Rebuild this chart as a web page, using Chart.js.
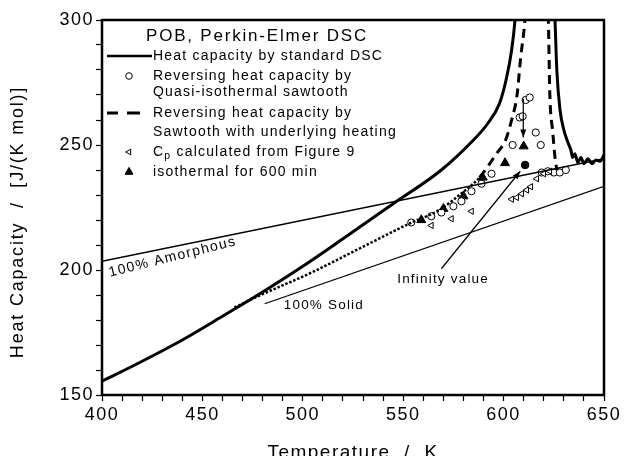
<!DOCTYPE html>
<html>
<head>
<meta charset="utf-8">
<script src="https://cdn.jsdelivr.net/npm/chart.js@4.4.1/dist/chart.umd.min.js"></script>
<style>
html, body { margin: 0; padding: 0; background: #fff; overflow: hidden; }
</style>
</head>
<body>
<canvas id="chart" width="624" height="456"></canvas>
<script>
// temperature in K, heat capacity in J/(K mol)
const amorphT = [400, 650];
const amorphCp = [203.5, 244.5];
const solidT = [481, 650];
const solidCp = [186.5, 233.5];

// standard DSC trace (peak runs off the top of the plot)
const dscT = [400, 420, 440, 460, 479, 500, 520, 545, 569, 585, 592, 598, 601.5, 604, 605.7, 607.5, 609,
              623.5, 624.5, 625.6, 626.5, 628.1, 630, 632.2, 633.5, 634.4, 635.5, 637, 638.5, 640, 642, 644, 646, 648, 650];
const dscCp = [155.5, 163.5, 172, 181.5, 190.7, 201.5, 212.5, 226.5, 240, 252, 258.5, 266.7, 277, 288, 300, 320, 340,
               340, 320, 300, 280, 264, 256, 250.7, 248, 245, 246.5, 243, 245, 242.5, 244.5, 242.5, 244, 243.5, 246];

// sawtooth with underlying heating
const sawLeftT = [466, 479, 503.6, 528.5, 553.4, 568, 578, 588, 596.6, 601, 604, 606.7, 608.5, 610.6, 612];
const sawLeftCp = [185, 190, 198.7, 208.7, 218.7, 224, 230, 237, 246.7, 252, 260, 270, 285, 300, 320];
const sawRightT = [621.5, 622.3, 623, 624.5, 625.6, 626.5];
const sawRightCp = [320, 300, 271, 255, 245, 240];

// quasi-isothermal sawtooth (open circles)
const quasiT = [554, 564, 569, 575, 579, 584, 589, 594, 604.5, 608, 609.5, 611, 613, 616, 618.5, 619, 622, 625, 628, 631];
const quasiCp = [219, 221.5, 223, 225.5, 227.5, 231.5, 234.5, 238.5, 250, 261, 261.5, 268, 269, 255, 250, 239, 239.5, 239, 239, 240];

// Cp calculated from Figure 9 (open triangles)
const fig9T = [564, 574, 584, 604, 606.5, 609, 611.5, 613.5, 616.5, 620, 623];
const fig9Cp = [217.8, 220.5, 223.5, 228.3, 229, 230.5, 232, 233.3, 236.5, 238.5, 239.5];

// isothermal for 600 min (filled triangles)
const isoT = [559, 570, 580, 589.6, 600.7, 610];
const isoCp = [220, 224.5, 229.5, 237, 242.8, 249.5];

// infinity value (filled circle)
const infT = [610.7];
const infCp = [242];

// arrows
const infArrowT = [569, 608.3];
const infArrowCp = [200.5, 239.5];
const downArrowT = [609.8, 609.8];
const downArrowCp = [268.5, 253];

const xTicks = [400, 450, 500, 550, 600, 650];
const yTicks = [150, 200, 250, 300];

const FONT = '"Liberation Sans", Arial, sans-serif';

function pts(xs, ys) {
    return xs.map((x, i) => ({ x: x, y: ys[i] }));
}

function lineSet(xs, ys, width, extra) {
    return Object.assign({
        data: pts(xs, ys),
        showLine: true,
        borderColor: '#000',
        borderWidth: width,
        pointRadius: 0,
        fill: false
    }, extra || {});
}

function markerSet(xs, ys, style, radius, filled, rotation) {
    return {
        data: pts(xs, ys),
        showLine: false,
        pointStyle: style,
        pointRadius: radius,
        pointRotation: rotation || 0,
        pointBorderWidth: 1,
        pointBorderColor: '#000',
        pointBackgroundColor: filled ? '#000' : '#fff'
    };
}

const datasets = [
    lineSet(amorphT, amorphCp, 1.3),
    lineSet(solidT, solidCp, 1.3),
    lineSet(dscT, dscCp, 3, { cubicInterpolationMode: 'monotone' }),
    lineSet(sawLeftT, sawLeftCp, 3, {
        cubicInterpolationMode: 'monotone',
        segment: {
            borderDash: c => c.p0.parsed.x < 588 ? [2.5, 1.8] : [9, 6],
            borderWidth: c => c.p0.parsed.x < 588 ? 2.5 : 3
        }
    }),
    lineSet(sawRightT, sawRightCp, 3, { borderDash: [9, 6], cubicInterpolationMode: 'monotone' }),
    lineSet(infArrowT, infArrowCp, 1.2, { arrow: true }),
    lineSet(downArrowT, downArrowCp, 1.2, { arrow: true }),
    markerSet(fig9T, fig9Cp, 'triangle', 3.6, false, -90),
    markerSet(quasiT, quasiCp, 'circle', 3.6, false),
    markerSet(isoT, isoCp, 'triangle', 5.2, true),
    markerSet(infT, infCp, 'circle', 3.8, true)
];

// arrow heads at the end of the arrow lines
const arrowPlugin = {
    id: 'arrows',
    afterDatasetsDraw(chart) {
        const ctx = chart.ctx;
        const xs = chart.scales.x, ys = chart.scales.y;
        chart.data.datasets.forEach(ds => {
            if (!ds.arrow) return;
            const a = ds.data[ds.data.length - 2], b = ds.data[ds.data.length - 1];
            const x0 = xs.getPixelForValue(a.x), y0 = ys.getPixelForValue(a.y);
            const x1 = xs.getPixelForValue(b.x), y1 = ys.getPixelForValue(b.y);
            const ang = Math.atan2(y1 - y0, x1 - x0);
            ctx.save();
            ctx.fillStyle = '#000';
            ctx.translate(x1, y1);
            ctx.rotate(ang);
            ctx.beginPath();
            ctx.moveTo(0, 0);
            ctx.lineTo(-8, -3);
            ctx.lineTo(-8, 3);
            ctx.closePath();
            ctx.fill();
            ctx.restore();
        });
    }
};

// frame, legend block, labels inside the plot, axis titles
const textPlugin = {
    id: 'texts',
    beforeDraw(chart) {
        chart.ctx.letterSpacing = '1.5px';
    },
    afterDraw(chart) {
        const ctx = chart.ctx;
        const ca = chart.chartArea;
        const xs = chart.scales.x, ys = chart.scales.y;
        ctx.save();
        ctx.strokeStyle = '#000';
        ctx.lineWidth = 2.5;
        ctx.strokeRect(ca.left, ca.top, ca.right - ca.left, ca.bottom - ca.top);

        ctx.fillStyle = '#000';
        ctx.textBaseline = 'middle';
        ctx.textAlign = 'left';

        // legend
        const L = ca.left, T = ca.top;
        ctx.letterSpacing = '1.8px';
        ctx.font = '17px ' + FONT;
        ctx.fillText('POB, Perkin-Elmer DSC', L + 44, T + 16);

        ctx.letterSpacing = '1.2px';
        ctx.font = '14px ' + FONT;
        const tx = L + 51;
        ctx.lineWidth = 2.5;
        ctx.beginPath();
        ctx.moveTo(L + 5, T + 36);
        ctx.lineTo(L + 50, T + 36);
        ctx.stroke();
        ctx.fillText('Heat capacity by standard DSC', tx, T + 36);

        ctx.lineWidth = 1;
        ctx.fillStyle = '#fff';
        Chart.helpers.drawPoint(ctx, { pointStyle: 'circle', radius: 3.3, borderWidth: 1, rotation: 0 }, L + 27, T + 56);
        ctx.fillStyle = '#000';
        ctx.fillText('Reversing heat capacity by', tx, T + 56);
        ctx.fillText('Quasi-isothermal sawtooth', tx, T + 72.5);

        ctx.lineWidth = 3;
        ctx.beginPath();
        ctx.moveTo(L + 5, T + 93); ctx.lineTo(L + 16, T + 93);
        ctx.moveTo(L + 25, T + 93); ctx.lineTo(L + 38, T + 93);
        ctx.stroke();
        ctx.fillText('Reversing heat capacity by', tx, T + 93);
        ctx.fillText('Sawtooth with underlying heating', tx, T + 112);

        ctx.lineWidth = 1;
        ctx.fillStyle = '#fff';
        Chart.helpers.drawPoint(ctx, { pointStyle: 'triangle', radius: 3.3, borderWidth: 1, rotation: -90 }, L + 27, T + 132);
        ctx.fillStyle = '#000';
        ctx.fillText('C', tx, T + 132);
        let w = ctx.measureText('C').width;
        ctx.font = '10.5px ' + FONT;
        ctx.fillText('p', tx + w, T + 136);
        w += ctx.measureText('p').width;
        ctx.font = '14px ' + FONT;
        ctx.fillText(' calculated from Figure 9', tx + w, T + 132);

        Chart.helpers.drawPoint(ctx, { pointStyle: 'triangle', radius: 4.6, borderWidth: 1, rotation: 0 }, L + 27, T + 152);
        ctx.fillText('isothermal for 600 min', tx, T + 152);

        // line labels
        ctx.font = '14px ' + FONT;
        ctx.letterSpacing = '1.4px';
        ctx.textBaseline = 'alphabetic';
        ctx.save();
        ctx.translate(xs.getPixelForValue(404), ys.getPixelForValue(197.3));
        ctx.rotate(-14 * Math.PI / 180);
        ctx.fillText('100% Amorphous', 0, 0);
        ctx.restore();

        ctx.textBaseline = 'middle';
        ctx.letterSpacing = '1.2px';
        ctx.font = '13.5px ' + FONT;
        ctx.fillText('100% Solid', xs.getPixelForValue(490.5), ys.getPixelForValue(186));
        ctx.fillText('Infinity value', xs.getPixelForValue(547), ys.getPixelForValue(196.3));

        // axis titles
        ctx.font = '19px ' + FONT;
        ctx.letterSpacing = '1.5px';
        ctx.textAlign = 'center';
        ctx.textBaseline = 'alphabetic';
        ctx.fillText('Temperature  /  K', (ca.left + ca.right) / 2, 458);

        ctx.save();
        ctx.font = '18px ' + FONT;
        ctx.letterSpacing = '1.8px';
        ctx.textBaseline = 'middle';
        ctx.translate(18, 222);
        ctx.rotate(-Math.PI / 2);
        ctx.fillText('Heat Capacity  /  [J/(K mol)]', 0, 0);
        ctx.restore();
        ctx.restore();
    }
};

new Chart(document.getElementById('chart'), {
    type: 'scatter',
    data: { datasets: datasets },
    options: {
        responsive: false,
        animation: false,
        devicePixelRatio: 1,
        layout: { padding: { top: 20, right: 20, left: 0, bottom: 0 } },
        plugins: { legend: { display: false }, tooltip: { enabled: false } },
        scales: {
            x: {
                type: 'linear',
                min: 400,
                max: 650,
                afterFit: s => { s.height = 61; },
                border: { display: false },
                grid: { drawOnChartArea: false, tickLength: 6, tickWidth: 1.2, tickColor: '#000' },
                ticks: {
                    stepSize: 10,
                    autoSkip: false,
                    maxRotation: 0,
                    padding: 3,
                    color: '#000',
                    font: { family: FONT, size: 18 },
                    callback: v => xTicks.includes(v) ? String(v) : ''
                }
            },
            y: {
                min: 150,
                max: 300,
                afterFit: s => { s.width = 102; },
                border: { display: false },
                grid: { drawOnChartArea: false, tickLength: 6, tickWidth: 1.2, tickColor: '#000' },
                ticks: {
                    stepSize: 10,
                    autoSkip: false,
                    padding: 2,
                    color: '#000',
                    font: { family: FONT, size: 18 },
                    callback: v => yTicks.includes(v) ? String(v) : ''
                }
            }
        }
    },
    plugins: [arrowPlugin, textPlugin]
});
</script>
</body>
</html>
